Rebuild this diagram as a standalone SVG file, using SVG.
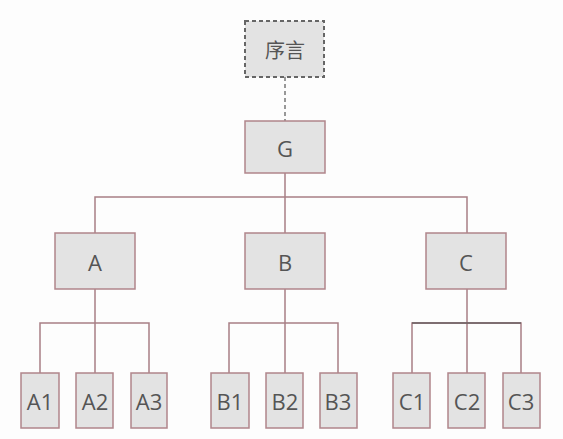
<svg xmlns="http://www.w3.org/2000/svg" width="563" height="439" viewBox="0 0 563 439">
<style>
.box{fill:#e3e3e3;stroke:#b0858b;stroke-width:1.5}
.dash{fill:#e3e3e3;stroke:#666;stroke-width:2;stroke-dasharray:4 3}
.t{font-family:"Open Sans","Noto Sans","Noto Sans CJK SC",sans-serif;font-size:22px;fill:#555;text-anchor:middle;dominant-baseline:central}
.ln{stroke:#a87f85;stroke-width:1.5;fill:none}
</style>
<rect width="563" height="439" fill="#fdfdfd"/>
<g id="connectors">
<line x1="285" y1="77" x2="285" y2="121" stroke="#777" stroke-width="1.5" stroke-dasharray="4 3"/>
<path class="ln" d="M285 173V197M95 233V197H467V233M285 197V233"/>
<path class="ln" d="M95 289V373M40 373V323H149V373"/>
<path class="ln" d="M285 289V373M229 373V323H338V373"/>
<path class="ln" d="M467 289V373M412 373V323H521V373"/>
<path d="M412 323H521" stroke="#6a5e60" stroke-width="1.5"/>
</g>
<g id="preface"><rect class="dash" x="245" y="21" width="79" height="56"/><text class="t" x="285" y="50" style="font-size:20px">序言</text></g>
<g id="G"><rect class="box" x="245" y="121" width="80" height="52"/><text class="t" x="285" y="148">G</text></g>
<g id="A"><rect class="box" x="55" y="233" width="80" height="56"/><text class="t" x="95" y="262">A</text></g>
<g id="B"><rect class="box" x="245" y="233" width="80" height="56"/><text class="t" x="285" y="262">B</text></g>
<g id="C"><rect class="box" x="426" y="233" width="80" height="56"/><text class="t" x="466" y="262">C</text></g>
<g id="A1"><rect class="box" x="21" y="373" width="38" height="55"/><text class="t" x="40" y="401">A1</text></g>
<g id="A2"><rect class="box" x="76" y="373" width="37" height="55"/><text class="t" x="95" y="401">A2</text></g>
<g id="A3"><rect class="box" x="131" y="373" width="36" height="55"/><text class="t" x="149" y="401">A3</text></g>
<g id="B1"><rect class="box" x="211" y="373" width="38" height="55"/><text class="t" x="230" y="401">B1</text></g>
<g id="B2"><rect class="box" x="266" y="373" width="37" height="55"/><text class="t" x="285" y="401">B2</text></g>
<g id="B3"><rect class="box" x="320" y="373" width="37" height="55"/><text class="t" x="338" y="401">B3</text></g>
<g id="C1"><rect class="box" x="393" y="373" width="37" height="55"/><text class="t" x="412" y="401">C1</text></g>
<g id="C2"><rect class="box" x="448" y="373" width="37" height="55"/><text class="t" x="467" y="401">C2</text></g>
<g id="C3"><rect class="box" x="503" y="373" width="37" height="55"/><text class="t" x="521" y="401">C3</text></g>
</svg>
